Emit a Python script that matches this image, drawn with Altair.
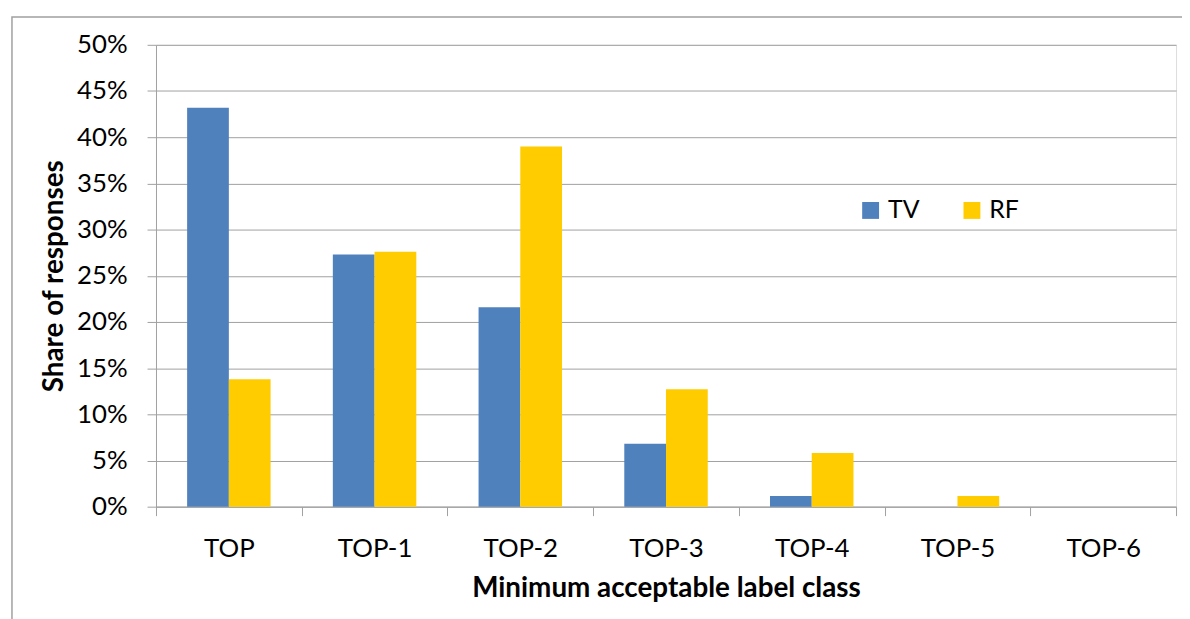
import altair as alt
import pandas as pd

categories = ["TOP", "TOP-1", "TOP-2", "TOP-3", "TOP-4", "TOP-5", "TOP-6"]
series = ["TV", "RF"]
tv_values = [0.432, 0.273, 0.216, 0.068, 0.0115, 0.0, 0.0]
rf_values = [0.138, 0.276, 0.390, 0.127, 0.058, 0.0115, 0.0]
y_ticks = [0, 0.05, 0.10, 0.15, 0.20, 0.25, 0.30, 0.35, 0.40, 0.45, 0.50]
colors = ["#4F81BD", "#FFCC00"]

rows = []
for c, tv, rf in zip(categories, tv_values, rf_values):
    rows.append({"cls": c, "series": "TV", "share": tv})
    rows.append({"cls": c, "series": "RF", "share": rf})
df = pd.DataFrame(rows)

FONT = "Lato"
GRID = "#A0A0A0"

bars = alt.Chart(df).mark_bar().encode(
    x=alt.X(
        "cls:N",
        sort=categories,
        scale=alt.Scale(paddingInner=0, paddingOuter=0),
        axis=alt.Axis(
            title="Minimum acceptable label class",
            labelAngle=0,
            tickBand="extent",
            tickSize=9,
            tickColor=GRID,
            domainColor=GRID,
            labelPadding=20,
            labelFontSize=26,
            labelFont=FONT,
            labelColor="black",
            titleFont=FONT,
            titleFontSize=28,
            titleFontWeight="bold",
            titleColor="black",
            titlePadding=13,
            grid=False,
        ),
    ),
    xOffset=alt.XOffset(
        "series:N", sort=series, scale=alt.Scale(paddingInner=0, paddingOuter=0.746)
    ),
    y=alt.Y(
        "share:Q",
        scale=alt.Scale(domain=[0, 0.5], nice=False),
        axis=alt.Axis(
            title="Share of responses",
            values=y_ticks,
            format=".0%",
            tickSize=9,
            tickColor=GRID,
            domainColor=GRID,
            gridColor=GRID,
            labelPadding=20,
            labelFontSize=26,
            labelFont=FONT,
            labelColor="black",
            titleFont=FONT,
            titleFontSize=28,
            titleFontWeight="bold",
            titleColor="black",
            titlePadding=8,
        ),
    ),
    color=alt.Color(
        "series:N",
        sort=series,
        scale=alt.Scale(domain=series, range=colors),
        legend=alt.Legend(
            title=None,
            orient="none",
            legendX=707,
            legendY=154,
            direction="horizontal",
            symbolType="square",
            symbolSize=289,
            symbolStrokeWidth=0,
            labelFont=FONT,
            labelFontSize=25,
            labelColor="black",
            labelOffset=5,
            columnPadding=40,
        ),
    ),
)

border = alt.Chart(alt.Data(values=[{}])).mark_rect(
    fill=None, stroke="#A0A0A0", strokeWidth=1.5, clip=False
).encode(
    x=alt.value(-145), y=alt.value(-28), x2=alt.value(1045), y2=alt.value(600)
)

chart = alt.layer(border, bars).properties(
    width=1027,
    height=465,
    autosize=alt.AutoSizeParams(type="none"),
    padding={"left": 149, "top": 35, "right": 6, "bottom": 111},
).configure_view(stroke=None).configure(background="white")

chart.save("out.html", embed_options={"renderer": "svg", "actions": False})
